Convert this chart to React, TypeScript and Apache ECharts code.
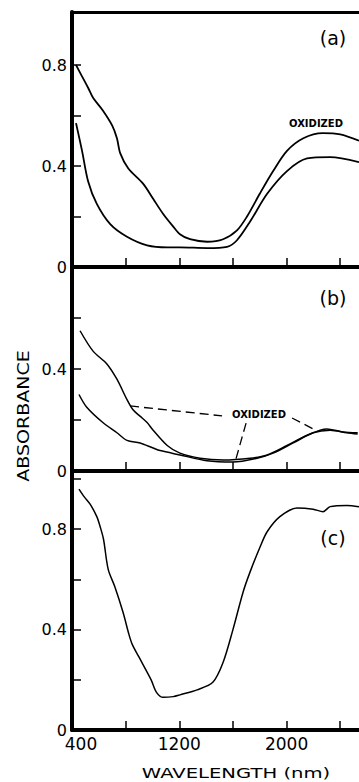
import React, { useEffect, useRef } from 'react';
import * as echarts from 'echarts';

// ---- data (wavelength nm, absorbance) ----
const aOxidized = [[430,0.80],[460,0.77],[520,0.71],[557,0.67],[630,0.62],[700,0.56],[735,0.51],[760,0.45],[820,0.39],[930,0.33],[1005,0.27],[1080,0.21],[1155,0.16],[1205,0.13],[1280,0.11],[1407,0.10],[1527,0.11],[1630,0.145],[1705,0.20],[1800,0.29],[1900,0.38],[2003,0.46],[2125,0.51],[2270,0.53],[2400,0.525],[2540,0.50]];
const aReduced = [[430,0.57],[475,0.46],[520,0.34],[585,0.25],[685,0.17],[810,0.12],[960,0.086],[1110,0.078],[1205,0.078],[1407,0.075],[1556,0.08],[1630,0.106],[1728,0.18],[1855,0.29],[2003,0.38],[2153,0.43],[2325,0.435],[2540,0.415]];
const bOxidized = [[460,0.55],[557,0.47],[660,0.42],[735,0.36],[810,0.28],[855,0.24],[907,0.215],[960,0.19],[1005,0.16],[1110,0.10],[1205,0.07],[1355,0.05],[1527,0.043],[1728,0.05],[1855,0.063],[2003,0.10],[2153,0.14],[2300,0.165],[2420,0.153],[2530,0.15]];
const bReduced = [[452,0.30],[510,0.25],[630,0.19],[735,0.15],[810,0.12],[907,0.11],[1005,0.09],[1057,0.08],[1205,0.063],[1407,0.04],[1600,0.035],[1780,0.05],[1900,0.07],[2050,0.11],[2198,0.15],[2325,0.16],[2450,0.15],[2530,0.145]];
const cReduced = [[452,0.96],[490,0.93],[535,0.90],[585,0.85],[610,0.81],[635,0.76],[670,0.64],[720,0.57],[780,0.47],[825,0.38],[850,0.34],[900,0.29],[990,0.20],[1030,0.15],[1080,0.13],[1155,0.133],[1205,0.14],[1333,0.16],[1450,0.19],[1527,0.27],[1600,0.40],[1676,0.55],[1728,0.63],[1803,0.73],[1855,0.79],[1950,0.85],[2078,0.885],[2198,0.88],[2272,0.87],[2325,0.89],[2450,0.895],[2540,0.89]];
// leader lines of the "OXIDIZED" note in panel (b)
const leaderLeft = [[833,0.255],[1519,0.216]];
const leaderRight = [[2041,0.208],[2228,0.157]];
const leaderDown = [[1698,0.188],[1616,0.035]];

// ---- ticks / labels ----
const xTickValues = [400, 800, 1200, 1600, 2000, 2400];
const xLabelValues = [400, 1200, 2000];
const yTickA = [0, 0.2, 0.4, 0.6, 0.8];
const yLabelA = [0, 0.4, 0.8];
const yTickB = [0, 0.2, 0.4, 0.6];
const yLabelB = [0, 0.4];
const yTickC = [0, 0.2, 0.4, 0.6, 0.8, 1.0];
const yLabelC = [0, 0.4, 0.8];
const panelNames = ['(a)', '(b)', '(c)'];
const noteText = 'OXIDIZED';
const yTitle = 'ABSORBANCE';
const xTitle = 'WAVELENGTH (nm)';

const FONT = '"DejaVu Sans", sans-serif';

export default function App() {
  const ref = useRef<HTMLDivElement>(null);
  useEffect(() => {
    document.body.style.margin = '0';
    const chart = echarts.init(ref.current!, null, { renderer: 'svg' });
    const grids = [
      { left: 72, top: 12, width: 287, height: 255 },
      { left: 72, top: 267, width: 287, height: 204 },
      { left: 72, top: 471, width: 287, height: 259 },
    ];
    const yMax = [1.01, 0.8, 1.032];
    const yTicks = [yTickA, yTickB, yTickC];
    const yLabels = [yLabelA, yLabelB, yLabelC];

    const xAxes: any[] = grids.map((_, i) => ({
      type: 'value', gridIndex: i, min: 400, max: 2540, position: 'bottom',
      axisLine: { show: true, lineStyle: { color: '#000', width: 4 } },
      axisTick: { show: true, inside: true, length: 9, customValues: xTickValues, lineStyle: { color: '#000', width: 1.5 } },
      axisLabel: i === 2 ? {
        show: true, customValues: xLabelValues, color: '#000', fontSize: 17, fontFamily: FONT, margin: 5,
        formatter: (v: number) => (v === 400 ? '{f|400}' : String(v)),
        rich: { f: { fontSize: 17, fontFamily: FONT, color: '#000', padding: [0, 0, 0, 18] } },
      } : { show: false },
      splitLine: { show: false },
    }));
    // top border of panel (a)
    xAxes.push({
      type: 'value', gridIndex: 0, min: 400, max: 2540, position: 'top',
      axisLine: { show: true, lineStyle: { color: '#000', width: 3 } },
      axisTick: { show: false }, axisLabel: { show: false }, splitLine: { show: false },
    });

    const yAxes = grids.map((_, i) => ({
      type: 'value', gridIndex: i, min: 0, max: yMax[i],
      axisLine: { show: true, lineStyle: { color: '#000', width: 4 } },
      axisTick: { show: true, inside: true, length: 9, customValues: yTicks[i], lineStyle: { color: '#000', width: 1.5 } },
      axisLabel: {
        show: true, customValues: yLabels[i], color: '#000', fontSize: 16, fontFamily: FONT, margin: 5,
        formatter: (v: number) => (v === 0 ? '0' : String(v)),
      },
      splitLine: { show: false },
    }));

    const curve = (data: number[][], gi: number, w: number) => ({
      type: 'line', xAxisIndex: gi, yAxisIndex: gi, data, smooth: 0.3, symbol: 'none',
      lineStyle: { color: '#000', width: w }, z: 5,
    });
    const leader = (data: number[][]) => ({
      type: 'line', xAxisIndex: 1, yAxisIndex: 1, data, symbol: 'none',
      lineStyle: { color: '#000', width: 1.3, type: [9, 5] }, z: 4,
    });

    const txt = (text: string, x: number, y: number, size: number, extra: any = {}, weight = 'normal') => ({
      type: 'text', x, y, ...extra,
      style: {
        text, fontSize: size, fontFamily: FONT, fontWeight: weight, fill: '#000',
        textAlign: 'center', textVerticalAlign: 'middle', align: 'center', verticalAlign: 'middle',
      },
    });

    chart.setOption({
      animation: false,
      backgroundColor: '#fff',
      grid: grids,
      xAxis: xAxes,
      yAxis: yAxes,
      series: [
        curve(aOxidized, 0, 1.8),
        curve(aReduced, 0, 1.8),
        curve(bOxidized, 1, 1.5),
        curve(bReduced, 1, 1.5),
        curve(cReduced, 2, 1.5),
        leader(leaderLeft),
        leader(leaderRight),
        leader(leaderDown),
      ],
      graphic: [
        txt(panelNames[0], 333, 38, 19),
        txt(panelNames[1], 333, 298, 19),
        txt(panelNames[2], 333, 538, 19),
        txt(noteText, 316, 123, 10, {}, 'bold'),
        txt(noteText, 259, 414, 10, {}, 'bold'),
        txt(yTitle, 24, 416, 15, { rotation: Math.PI / 2, scaleX: 1.27 }),
        txt(xTitle, 236, 773, 14, { scaleX: 1.4 }),
      ],
    });
    return () => chart.dispose();
  }, []);
  return <div ref={ref} style={{ width: 359, height: 782 }} />;
}
